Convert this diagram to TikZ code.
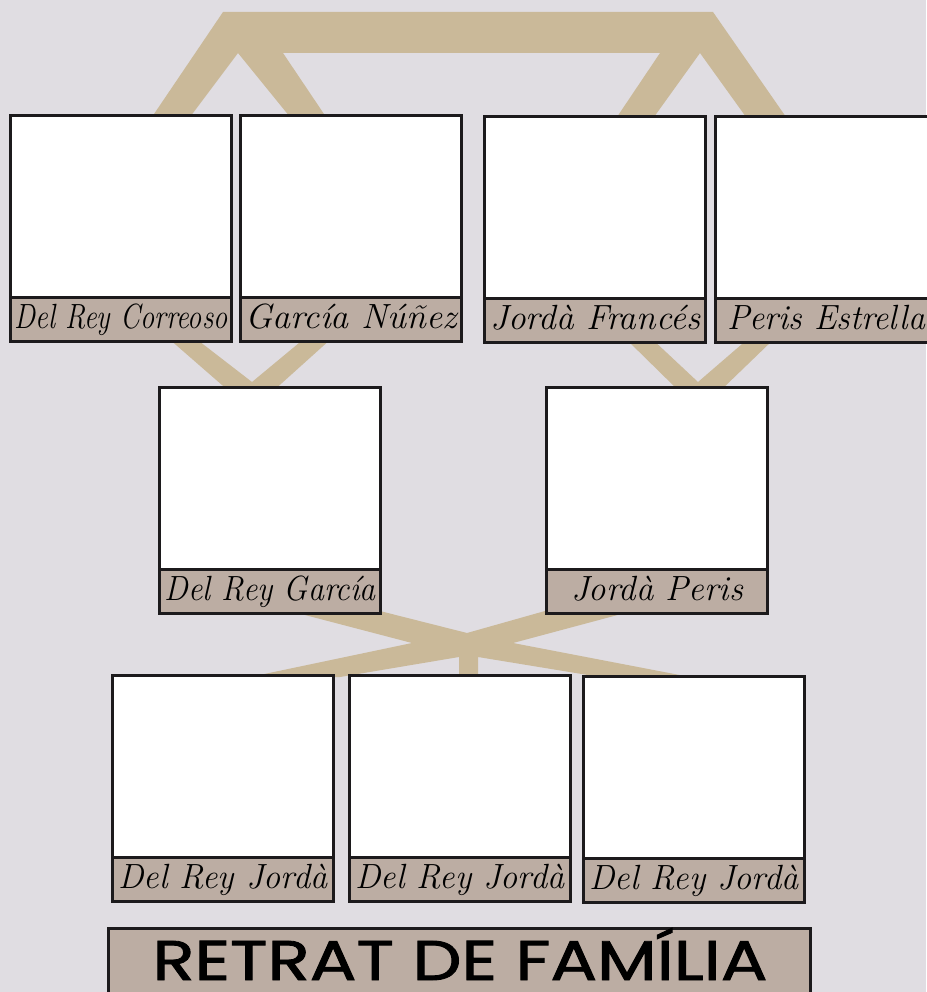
\documentclass[tikz,border=0pt]{standalone}
\usepackage{fontspec}
\newfontfamily\titlefont{Poppins}[FakeBold=1.5]
\definecolor{bgc}{RGB}{224,221,226}
\definecolor{band}{RGB}{202,185,153}
\definecolor{labfill}{RGB}{188,173,163}
\definecolor{frame}{RGB}{28,26,28}
\newsavebox\fitbox
\newlength\fitht
\newcommand\fitto[2]{\sbox\fitbox{#2}\setlength\fitht{\ht\fitbox}\resizebox{#1}{\fitht}{\usebox\fitbox}}
\tikzset{
  photo/.style={draw=frame, line width=3.2pt, fill=white, minimum width=221pt,
    minimum height=182pt, anchor=north west, inner sep=0pt},
  lab/.style={draw=frame, line width=3.2pt, fill=labfill, minimum width=221pt,
    minimum height=44pt, anchor=north west, inner sep=0pt, text height=31pt,
    text depth=13pt, font=\fontsize{35}{35}\selectfont\itshape},
  bandfill/.style={fill=band},
  titlebox/.style={draw=frame, line width=3.2pt, fill=labfill, minimum width=702pt,
    minimum height=80pt, anchor=north west, inner sep=0pt}
}
\begin{document}
\begin{tikzpicture}[x=1pt,y=-1pt]
\fill[bgc] (0,0) rectangle (926,992);
\useasboundingbox (0,0) rectangle (926,992);
% connecting bands
\fill[bandfill] (223,12) -- (713,12) -- (786,117) -- (746,117) -- (700,53) -- (654,117)
  -- (617,117) -- (660,53) -- (283,53) -- (326,117) -- (290,117) -- (238,53)
  -- (190,117) -- (152,117) -- cycle;
\fill[bandfill] (168,338) -- (195,338) -- (252,382) -- (305,338) -- (332,338)
  -- (272,392) -- (230,392) -- cycle;
\fill[bandfill] (625,338) -- (651,338) -- (698,382) -- (749,338) -- (775,338)
  -- (719,392) -- (680,392) -- cycle;
\fill[bandfill] (282,609) -- (372,609) -- (467,633) -- (552,609) -- (640,609)
  -- (513,643) -- (690,677) -- (600,677) -- (478,657) -- (478,677) -- (459,677)
  -- (459,657) -- (340,677) -- (250,677) -- (412,643) -- cycle;
% top row
\node[photo] (p1) at (9,114) {};
\node[lab] (l1) at (9,296) {\fitto{213pt}{Del Rey Correoso}};
\node[photo] (p2) at (239,114) {};
\node[lab] (l2) at (239,296) {\fitto{211pt}{García Núñez}};
\node[photo] (p3) at (483,115) {};
\node[lab] (l3) at (483,297) {\fitto{210pt}{Jordà Francés}};
\node[photo] (p4) at (714,115) {};
\node[lab] (l4) at (714,297) {\fitto{198pt}{Peris Estrella}};
% middle row
\node[photo] (p5) at (158,386) {};
\node[lab] (l5) at (158,568) {\fitto{211pt}{Del Rey García}};
\node[photo] (p6) at (545,386) {};
\node[lab] (l6) at (545,568) {\fitto{172pt}{Jordà Peris}};
% bottom row
\node[photo] (p7) at (111,674) {};
\node[lab] (l7) at (111,856) {\fitto{209pt}{Del Rey Jordà}};
\node[photo] (p8) at (348,674) {};
\node[lab] (l8) at (348,856) {\fitto{209pt}{Del Rey Jordà}};
\node[photo] (p9) at (582,675) {};
\node[lab] (l9) at (582,857) {\fitto{209pt}{Del Rey Jordà}};
% title
\node[titlebox] (title) at (107,927) {};
\node[anchor=base, inner sep=0pt, font=\titlefont\fontsize{56}{56}\selectfont]
  (titletext) at (460,980) {\fitto{615pt}{RETRAT DE FAMÍLIA}};
\end{tikzpicture}
\end{document}
